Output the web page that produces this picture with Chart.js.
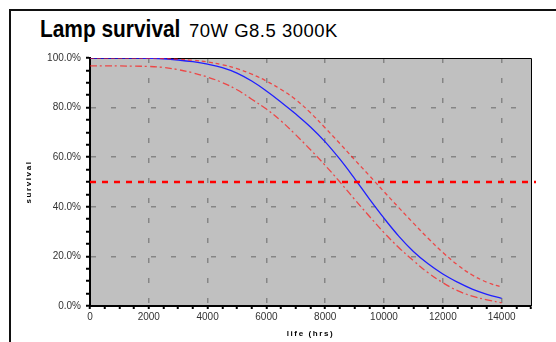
<!DOCTYPE html>
<html>
<head>
<meta charset="utf-8">
<script src="https://cdn.jsdelivr.net/npm/chart.js@4/dist/chart.umd.min.js"></script>
<style>
  html, body { margin: 0; padding: 0; background: #fff; }
  #wrap { position: relative; width: 556px; height: 342px; overflow: hidden; }
  #frame { position: absolute; left: 9px; top: 9px; width: 600px; height: 400px;
           border-top: 2px solid #111; border-left: 2px solid #111; }
  .t { position: absolute; white-space: nowrap; color: #000; font-family: 'Liberation Sans', Arial, sans-serif; }
  #tmain { left: 40px; top: 17.4px; font-weight: bold; font-size: 24px; line-height: 24px;
           transform: scaleX(0.87); transform-origin: 0 0; }
  #tsub { left: 189px; top: 22.1px; font-size: 18.5px; line-height: 18.5px; letter-spacing: 0.5px; }
  canvas { position: absolute; left: 0; top: 0; }
</style>
</head>
<body>
<div id="wrap">
  <div id="frame"></div>
  <span class="t" id="tmain">Lamp survival</span>
  <span class="t" id="tsub">70W G8.5 3000K</span>
  <canvas id="c" width="556" height="342"></canvas>
</div>
<script>
// ---- data ----
const hours = [0, 500, 1000, 1500, 2000, 2500, 3000, 3500, 4000, 4500, 5000, 5500, 6000, 6500, 7000,
               7500, 8000, 8500, 9000, 9500, 10000, 10500, 11000, 11500, 12000, 12500, 13000, 13500, 14000];
const survival = [100, 100, 100, 100, 99.9, 99.7, 99.2, 98.5, 97.5, 96.1, 93.9, 90.7, 86.7, 82.2, 77.4,
                  72.2, 66.2, 59.2, 51.4, 43.2, 35.4, 28.2, 22.0, 17.0, 12.9, 9.6, 6.8, 4.7, 3.1];
const upperBound = [100, 100, 100, 100, 100, 99.8, 99.5, 99.1, 98.4, 97.3, 95.7, 93.5, 90.7, 87.3, 83.2,
                    77.9, 71.8, 65.5, 59.0, 52.6, 46.1, 39.7, 33.4, 27.3, 21.6, 16.6, 12.5, 9.6, 7.6];
const lowerBound = [96.8, 96.8, 96.8, 96.7, 96.6, 96.2, 95.3, 94.0, 92.3, 90.1, 87.2, 83.4, 79.4, 74.6, 69.0,
                    63.0, 56.7, 50.0, 43.0, 36.2, 29.6, 23.6, 18.3, 13.4, 9.4, 6.2, 4.0, 2.5, 1.3];
const medianLevel = [50];
const xTickValues = [0, 2000, 4000, 6000, 8000, 10000, 12000, 14000];
const yTickValues = [0, 20, 40, 60, 80, 100];
const xRange = [0, 15000];
const yRange = [0, 100];

const toPoints = arr => hours.map((h, i) => ({ x: h, y: arr[i] }));

const plotBg = {
  id: 'plotBg',
  beforeDraw(chart) {
    const { ctx, chartArea: a } = chart;
    ctx.save();
    ctx.fillStyle = '#c0c0c0';
    ctx.fillRect(a.left, a.top, a.right - a.left, a.bottom - a.top);
    ctx.restore();
    Object.values(chart.scales).forEach(s => {
      if (!s._lsPatched) {
        const orig = s.drawTitle.bind(s);
        s.drawTitle = function () {
          const c = this.ctx; c.save(); c.letterSpacing = '1.6px'; orig(); c.restore();
        };
        s._lsPatched = true;
      }
    });
  },
  beforeDatasetsDraw(chart) {
    const { ctx, chartArea: a } = chart;
    ctx.save();
    ctx.strokeStyle = '#000';
    ctx.lineWidth = 1;
    ctx.beginPath();
    ctx.moveTo(a.left, a.top + 0.5);
    ctx.lineTo(a.right + 0.5, a.top + 0.5);
    ctx.lineTo(a.right + 0.5, a.bottom);
    ctx.stroke();
    ctx.restore();
  },
  afterDatasetsDraw(chart) {
    const { ctx, chartArea: a, scales } = chart;
    ctx.save();
    const y = scales.y.getPixelForValue(medianLevel[0]);
    ctx.strokeStyle = '#ff0000';
    ctx.lineWidth = 2.5;
    ctx.setLineDash([6, 6]);
    ctx.beginPath();
    ctx.moveTo(a.left, y);
    ctx.lineTo(a.right + 5, y);
    ctx.stroke();
    ctx.restore();
  }
};

new Chart(document.getElementById('c'), {
  type: 'line',
  data: {
    datasets: [
      { label: 'upper', data: toPoints(upperBound), borderColor: 'rgba(255,20,20,0.7)', borderWidth: 1.3,
        borderDash: [4, 3], pointRadius: 0, tension: 0.4, fill: false },
      { label: 'lower', data: toPoints(lowerBound), borderColor: 'rgba(255,20,20,0.7)', borderWidth: 1.3,
        borderDash: [7, 3, 2, 3], pointRadius: 0, tension: 0.4, fill: false },
      { label: 'survival', data: toPoints(survival), borderColor: '#1f1fff', borderWidth: 1.3,
        pointRadius: 0, tension: 0.4, fill: false }
    ]
  },
  options: {
    responsive: false,
    animation: false,
    layout: { padding: { top: 58, right: 25, left: 20, bottom: 2 } },
    plugins: { legend: { display: false }, tooltip: { enabled: false }, title: { display: false } },
    scales: {
      x: {
        type: 'linear', min: xRange[0], max: xRange[1],
        afterFit: s => { s.height = 34; },
        ticks: {
          stepSize: 500, autoSkip: false, maxRotation: 0, padding: 2,
          color: '#333', font: { family: 'Liberation Sans, Arial, sans-serif', size: 10 },
          callback: v => xTickValues.includes(v) ? String(v) : ''
        },
        grid: {
          color: c => (c.tick && xTickValues.includes(c.tick.value) && c.tick.value !== xRange[0]) ? '#858585' : 'rgba(0,0,0,0)',
          lineWidth: 1.5, tickColor: '#000', tickLength: 3, tickWidth: 2
        },
        border: { display: true, color: '#000', width: 2, dash: [5, 15] },
        title: { display: true, text: 'life (hrs)', color: '#000',
                 font: { family: 'Liberation Sans, Arial, sans-serif', size: 8, weight: 'bold' },
                 padding: { top: 0, bottom: 1 } }
      },
      y: {
        type: 'linear', min: yRange[0], max: yRange[1],
        afterFit: s => { s.width = 70; },
        ticks: {
          stepSize: 5, autoSkip: false, padding: 5,
          color: '#333', font: { family: 'Liberation Sans, Arial, sans-serif', size: 10 },
          callback: v => yTickValues.includes(v) ? v.toFixed(1) + '%' : ''
        },
        grid: {
          color: c => (c.tick && yTickValues.includes(c.tick.value) && c.tick.value !== yRange[0] && c.tick.value !== yRange[1]) ? '#858585' : 'rgba(0,0,0,0)',
          lineWidth: 1.5, tickColor: '#000', tickLength: 4, tickWidth: 2
        },
        border: { display: true, color: '#000', width: 2, dash: [5, 15] },
        title: { display: true, text: 'survival', color: '#000',
                 font: { family: 'Liberation Sans, Arial, sans-serif', size: 8, weight: 'bold' },
                 padding: { top: 4, bottom: 0 } }
      }
    }
  },
  plugins: [plotBg]
});
</script>
</body>
</html>
